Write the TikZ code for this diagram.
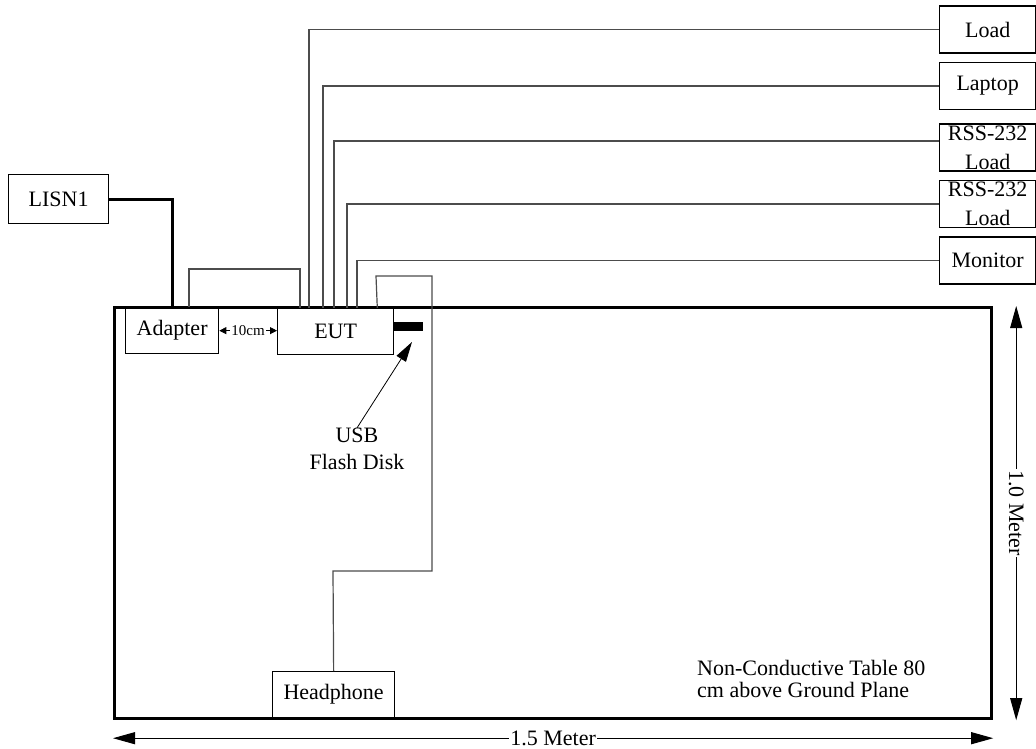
\documentclass[tikz,border=0pt]{standalone}
\usepackage{fontspec}
\setmainfont{Liberation Serif}
\usetikzlibrary{arrows.meta}

\begin{document}
\begin{tikzpicture}[x=1pt, y=-1pt, every node/.style={font=\fontsize{22}{27}\selectfont},
	box/.style={draw, line width=1.3pt, inner sep=0pt, anchor=north west},
	side/.style={draw, line width=1.3pt, inner sep=0pt, anchor=west, minimum width=96pt, minimum height=47pt, align=center, font=\fontsize{22}{29}\selectfont},
	cable/.style={draw=black!70, line width=1.2pt},
	dim/.style={line width=1pt, {Triangle[length=22pt,width=12pt]}-{Triangle[length=22pt,width=12pt]}}]
	\useasboundingbox (0,0) rectangle (1036,749);
	\node[box, line width=3.2pt, minimum width=877pt, minimum height=411pt] (table) at (113,306) {};
	\node[box, minimum width=100pt, minimum height=49pt] (lisn) at (8,174) {LISN1};
	\node[box, minimum width=93pt, minimum height=46pt] (adapter) at (125,307) {Adapter};
	\node[box, minimum width=116pt, minimum height=46pt] (eut) at (277,308) {EUT};
	\node[box, minimum width=122pt, minimum height=46pt] (phone) at (272,671) {Headphone};
	\node[fill=black, inner sep=0pt, anchor=north west, minimum width=29pt, minimum height=9pt] (usbbar) at (394,322) {};
	\node[inner sep=0pt, align=center] (usb) at (357,449) {USB\\Flash Disk};
	\coordinate (usbtip) at (412,342);
	\foreach \n/\y/\t in {load/29.5/Load, laptop/86/Laptop, rssa/147.5/{RSS-232\\Load}, rssb/204/{RSS-232\\Load}, monitor/260.5/Monitor}
		{\node[side] (\n) at (939,\y) {\t};}
	\node[anchor=west, align=left, inner sep=0pt, font=\fontsize{22}{22}\selectfont] (note) at (697,679) {Non-Conductive Table 80\\cm above Ground Plane};
	% cables
	\draw[line width=3pt] (lisn.east) -| ([xshift=47pt]adapter.north west);
	\draw[cable] ([xshift=64pt]adapter.north west) -- (189,269) -- (300,269) -- ([xshift=23pt]eut.north west);
	\foreach \dx/\n/\dy in {32/load/0, 46/laptop/0, 57/rssa/6.5, 70/rssb/0, 80/monitor/0}
		{\draw[cable] ([xshift=\dx pt]eut.north west) |- ([yshift=\dy pt]\n.west);}
	\draw[cable] ([xshift=-17pt]eut.north east) -- (376,276) -- (432,276) -- (432,571) -- (333,571) -- (phone.north);
	\draw[line width=0.8pt, -{Triangle[length=20pt,width=11pt]}] (usb.north) -- (usbtip);
	\draw[line width=0.8pt, {Triangle[length=7pt,width=7pt]}-{Triangle[length=7pt,width=7pt]}] (adapter.east) -- (adapter.east -| eut.west) node[midway, fill=white, inner sep=1pt, font=\fontsize{15}{18}\selectfont] (gap) {10cm};
	% dimensions
	\draw[dim] ([yshift=-18pt]table.south west) -- ([yshift=-18pt]table.south east) node[midway, fill=white, inner xsep=1pt, inner ysep=0pt] (width) {1.5 Meter};
	\draw[dim] ([xshift=23pt]table.north east) -- ([xshift=23pt]table.south east) node[midway, fill=white, rotate=-90, inner xsep=1pt, inner ysep=0pt] (depth) {1.0 Meter};
\end{tikzpicture}
\end{document}
